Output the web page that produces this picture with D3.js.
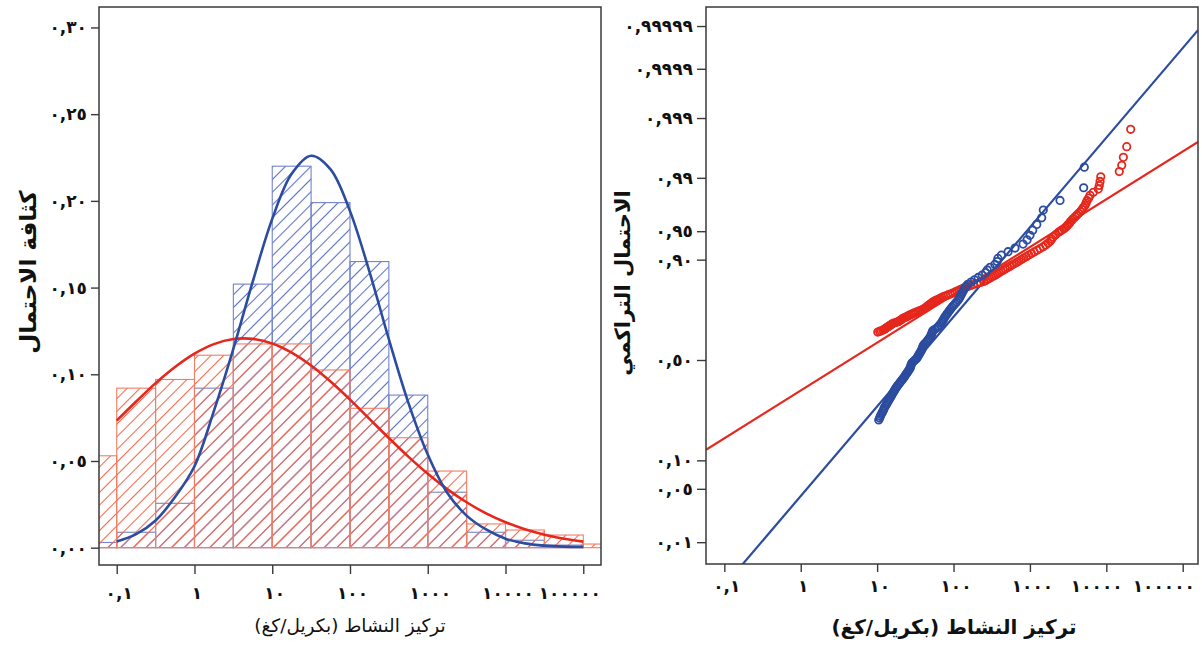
<!DOCTYPE html>
<html><head><meta charset="utf-8">
<script src="https://cdn.jsdelivr.net/npm/d3@7"></script>
<style>
body{margin:0;background:#fff}
svg{display:block}
text{font-family:"DejaVu Sans",sans-serif;fill:#111}
</style>
</head><body><svg id="c" width="1202" height="650"></svg>
<script>
// ---------------- DATA ----------------
// Histogram bins (concentration, Bq/kg), half-decade wide
const binEdges = [0.0316,0.1,0.316,1,3.16,10,31.6,100,316,1000,3162,10000,31623,100000,316228];
const blueDensity = [0.003,0.0089,0.0256,0.092,0.152,0.220,0.199,0.165,0.088,0.032,0.0089,0.0043,0.0015,0];
const redDensity  = [0.053,0.092,0.097,0.111,0.1175,0.1175,0.1025,0.0804,0.0634,0.0442,0.0137,0.0102,0.0073,0.0021];

// Fitted density curves
const curveConc = [0.1,0.1778,0.3162,0.5623,1,1.778,3.162,5.623,10,17.78,31.62,56.23,100,177.8,316.2,562.3,1000,1778,3162,5623,10000,17783,31623,56234,100000];
const blueCurve = [0.0036,0.0078,0.0157,0.0292,0.047,0.0789,0.1147,0.1536,0.1896,0.2156,0.2260,0.2182,0.1941,0.1592,0.1202,0.0837,0.0537,0.0317,0.0185,0.0105,0.0052,0.0025,0.0012,0.0006,0.0004];
const redCurve  = [0.0733,0.0843,0.0949,0.1042,0.1119,0.1174,0.1203,0.1204,0.1178,0.1125,0.1051,0.0958,0.0854,0.0743,0.0632,0.0525,0.0426,0.0338,0.0262,0.0198,0.0147,0.0106,0.0075,0.0052,0.0035];

// Probability plot: sorted concentrations and cumulative probabilities
const blueConc = [10.5,10.8,11.0,11.3,11.6,11.9,12.2,12.4,12.8,13.2,13.5,13.9,14.3,14.7,15.1,15.5,15.9,16.3,16.8,17.2,17.7,18.2,18.8,19.5,20.1,20.8,21.5,22.2,22.9,23.5,24.2,24.9,25.6,26.3,27.0,27.4,27.7,28.1,28.7,30.1,31.3,32.7,33.7,34.4,35.3,36.1,37.1,37.9,38.7,39.3,39.8,40.6,42.2,44.0,45.5,47.0,48.5,50.1,50.9,51.8,52.6,53.5,57.0,61.1,63.7,66.4,69.0,71.0,72.8,74.8,76.9,79.6,82.4,85.3,88.5,91.8,95.5,99.8,104.7,109.6,115.3,119.1,122.7,126.5,130.6,134.9,140.0,145.2,153.8,169.8,188.4,210.4,237.1,262.4,276.1,301.3,347.5,372.4,381.1,422.7,517.6,638.3,812.8,918.3,1002,1089,1230,1426,1496,2477,5050,5150];
const blueProb = [.2222,.2292,.2361,.2431,.2500,.2569,.2639,.2708,.2778,.2847,.2917,.2986,.3056,.3125,.3194,.3264,.3333,.3403,.3472,.3542,.3611,.3681,.3750,.3819,.3889,.3958,.4028,.4097,.4167,.4236,.4306,.4375,.4444,.4514,.4583,.4653,.4722,.4792,.4861,.4931,.5000,.5069,.5139,.5208,.5278,.5347,.5417,.5486,.5556,.5625,.5694,.5764,.5833,.5903,.5972,.6042,.6111,.6181,.6250,.6319,.6389,.6458,.6528,.6597,.6667,.6736,.6806,.6875,.6944,.7014,.7083,.7153,.7222,.7292,.7361,.7431,.7500,.7569,.7639,.7708,.7778,.7847,.7917,.7986,.8056,.8125,.8194,.8264,.8333,.8403,.8472,.8542,.8611,.8681,.8750,.8819,.8889,.8958,.9028,.9097,.9167,.9236,.9306,.9375,.9444,.9514,.9583,.9653,.9722,.9792,.9861,.9931];
const redConc = [10.2,10.8,11.3,11.9,12.4,12.8,13.1,13.5,14.0,14.4,14.9,15.3,15.8,16.5,17.7,18.9,19.5,20.1,20.8,21.4,22.2,23.2,24.4,25.4,26.5,27.9,29.2,30.7,32.5,34.4,36.5,38.6,40.8,42.2,43.4,44.8,46.1,47.6,49.2,50.7,52.5,54.1,56.9,59.8,63.1,66.5,70.0,74.0,79.1,84.5,91.0,97.5,104.5,110.4,117.2,124.5,133.0,143.2,154.9,168.3,182.8,203.2,225.9,248.9,264.2,279.3,296.5,314.8,334.2,354.8,375.8,397.2,420.7,446.7,475.3,507,544.5,580.8,622.3,669.9,719.5,772.7,829.8,895.4,968.3,1047,1135,1242,1355,1489,1607,1734,1854,1932,2014,2173,2366,2477,2630,2793,2924,3062,3155,3296,3396,3556,3698,3890,4102,4325,4592,4808,5012,5260,5433,5598,5888,6124,6761,7852,8091,8279,8453,14790,15920,16710,18490,20840];
const redProb = [.6393,.6425,.6457,.6490,.6522,.6554,.6586,.6618,.6651,.6683,.6715,.6747,.6779,.6812,.6844,.6876,.6908,.6940,.6973,.7005,.7037,.7069,.7101,.7134,.7166,.7198,.7230,.7262,.7295,.7327,.7359,.7391,.7424,.7456,.7488,.7520,.7552,.7585,.7617,.7649,.7681,.7713,.7746,.7778,.7810,.7842,.7874,.7907,.7939,.7971,.8003,.8035,.8068,.8100,.8132,.8164,.8196,.8229,.8261,.8293,.8325,.8357,.8390,.8422,.8454,.8486,.8519,.8551,.8583,.8615,.8647,.8680,.8712,.8744,.8776,.8808,.8841,.8873,.8905,.8937,.8969,.9002,.9034,.9066,.9098,.9130,.9163,.9195,.9227,.9259,.9291,.9324,.9356,.9388,.9420,.9452,.9485,.9501,.9517,.9533,.9549,.9565,.9581,.9597,.9614,.9630,.9646,.9662,.9678,.9694,.9710,.9726,.9742,.9758,.9775,.9791,.9807,.9823,.9839,.9855,.9871,.9887,.99034,.99195,.99356,.99517,.99678,.99839];

// Lognormal fits (median Bq/kg, sigma in log10 units)
const blueFitMedian = 33.0, blueFitSigma = 0.874;
const redFitMedian = 4.34, redFitSigma = 1.638;

// Ticks and labels
const xTicks = [0.1,1,10,100,1000,10000,100000];
const xLabels = ["٠,١","١","١٠","١٠٠","١٠٠٠","١٠٠٠٠","١٠٠٠٠٠"];
const densTicks = [0,0.05,0.10,0.15,0.20,0.25,0.30];
const densLabels = ["٠,٠٠","٠,٠٥","٠,١٠","٠,١٥","٠,٢٠","٠,٢٥","٠,٣٠"];
const probTicks = [0.01,0.05,0.10,0.50,0.90,0.95,0.99,0.999,0.9999,0.99999];
const probLabels = ["٠,٠١","٠,٠٥","٠,١٠","٠,٥٠","٠,٩٠","٠,٩٥","٠,٩٩","٠,٩٩٩","٠,٩٩٩٩","٠,٩٩٩٩٩"];
const xTitle = "تركيز النشاط (بكريل/كغ)";
const yTitleLeft = "كثافة الاحتمال";
const yTitleRight = "الاحتمال التراكمي";

// ---------------- STYLE ----------------
const BLUE = "#2b4c9f", RED = "#e5271c";
const BLUE_H = "#5d72c2", RED_H = "#f26b52";
const FRAME = "#3a3a3a";
const TICK_FS = 17, TICK_LS = 4;

// inverse standard normal CDF (Acklam)
function normInv(p){
  const a=[-3.969683028665376e+01,2.209460984245205e+02,-2.759285104469687e+02,1.383577518672690e+02,-3.066479806614716e+01,2.506628277459239e+00];
  const b=[-5.447609879822406e+01,1.615858368580409e+02,-1.556989798598866e+02,6.680131188771972e+01,-1.328068155288572e+01];
  const c=[-7.784894002430293e-03,-3.223964580411365e-01,-2.400758277161838e+00,-2.549732539343734e+00,4.374664141464968e+00,2.938163982698783e+00];
  const d=[7.784695709041462e-03,3.224671290700398e-01,2.445134137142996e+00,3.754408661907416e+00];
  const pl=0.02425, ph=1-pl; let q,r;
  if(p<pl){q=Math.sqrt(-2*Math.log(p));return (((((c[0]*q+c[1])*q+c[2])*q+c[3])*q+c[4])*q+c[5])/((((d[0]*q+d[1])*q+d[2])*q+d[3])*q+1);}
  if(p<=ph){q=p-0.5;r=q*q;return (((((a[0]*r+a[1])*r+a[2])*r+a[3])*r+a[4])*r+a[5])*q/(((((b[0]*r+b[1])*r+b[2])*r+b[3])*r+b[4])*r+1);}
  q=Math.sqrt(-2*Math.log(1-p));return -(((((c[0]*q+c[1])*q+c[2])*q+c[3])*q+c[4])*q+c[5])/((((d[0]*q+d[1])*q+d[2])*q+d[3])*q+1);
}

const svg = d3.select("#c");
const defs = svg.append("defs");
function hatch(id, color){
  const p = defs.append("pattern").attr("id",id).attr("patternUnits","userSpaceOnUse")
    .attr("width",9).attr("height",9).attr("patternTransform","rotate(45)");
  p.append("line").attr("x1",4.5).attr("y1",-1).attr("x2",4.5).attr("y2",10)
    .attr("stroke",color).attr("stroke-width",1.1);
}
hatch("hBlue", BLUE_H);
hatch("hRed", RED_H);

function styleAxis(g){
  g.select(".domain").remove();
  g.selectAll(".tick line").attr("stroke",FRAME).attr("stroke-width",1.4);
  g.selectAll(".tick text").attr("font-family","DejaVu Sans").attr("font-size",TICK_FS)
    .attr("font-weight","bold").attr("letter-spacing",TICK_LS).attr("fill","#111");
}
// x labels: centre them (compensating trailing letter-spacing), keep the last ones inside the frame
function fixXLabels(g, rightEdge, gap){
  const texts = g.selectAll(".tick text").nodes();
  texts.forEach(t=>d3.select(t).attr("dx", TICK_LS/2));
  const ticks = g.selectAll(".tick").nodes();
  const pos = ticks.map(n=>+n.getAttribute("transform").match(/translate\(([-\d.]+)/)[1]);
  let limit = rightEdge;
  for(let i=texts.length-1;i>=0;i--){
    const w = texts[i].getComputedTextLength();
    const end = pos[i] + w/2;
    if(end > limit){
      d3.select(texts[i]).attr("text-anchor","end").attr("x", limit - pos[i]).attr("dx",0);
      limit = limit - w - gap;
    } else break;
  }
}

// ---------------- LEFT PANEL ----------------
const L = {x0:99, x1:601, y0:7, y1:565};
const xL = d3.scaleLog().domain([Math.pow(10,-1.228), Math.pow(10,5.228)]).range([L.x0, L.x1]);
const yL = d3.scaleLinear().domain([-0.00998, 0.3118]).range([L.y1, L.y0]);

defs.append("clipPath").attr("id","clipL").append("rect")
  .attr("x",L.x0).attr("y",L.y0).attr("width",L.x1-L.x0).attr("height",L.y1-L.y0);

const gL = svg.append("g");
const bars = gL.append("g").attr("clip-path","url(#clipL)");
function drawBars(vals, fill, stroke){
  bars.append("g").selectAll("rect").data(vals).join("rect")
    .attr("x",(d,i)=>xL(binEdges[i]))
    .attr("width",(d,i)=>xL(binEdges[i+1])-xL(binEdges[i]))
    .attr("y",d=>yL(d))
    .attr("height",d=>yL(0)-yL(d))
    .attr("fill",`url(#${fill})`)
    .attr("stroke",stroke).attr("stroke-width",1.1)
    .attr("display",d=>d>0?null:"none");
}
drawBars(blueDensity,"hBlue","#7184cb");
drawBars(redDensity,"hRed","#f47d65");

const curveGen = d3.line().x(d=>xL(d[0])).y(d=>yL(d[1])).curve(d3.curveCatmullRom.alpha(0.5));
bars.append("path").attr("d",curveGen(curveConc.map((c,i)=>[c,redCurve[i]])))
  .attr("fill","none").attr("stroke",RED).attr("stroke-width",2.6);
bars.append("path").attr("d",curveGen(curveConc.map((c,i)=>[c,blueCurve[i]])))
  .attr("fill","none").attr("stroke",BLUE).attr("stroke-width",2.6);

gL.append("rect").attr("x",L.x0).attr("y",L.y0).attr("width",L.x1-L.x0).attr("height",L.y1-L.y0)
  .attr("fill","none").attr("stroke",FRAME).attr("stroke-width",1.5);

const axYL = gL.append("g").attr("transform",`translate(${L.x0},0)`)
  .call(d3.axisLeft(yL).tickValues(densTicks).tickSize(8).tickPadding(4).tickFormat((d,i)=>densLabels[i]));
styleAxis(axYL);
const axXL = gL.append("g").attr("transform",`translate(0,${L.y1})`)
  .call(d3.axisBottom(xL).tickValues(xTicks).tickSize(9).tickPadding(13).tickFormat((d,i)=>xLabels[i]));
styleAxis(axXL);
fixXLabels(axXL, L.x1, 6);

gL.append("text").attr("x",350).attr("y",632).attr("text-anchor","middle").attr("direction","rtl")
  .attr("font-size",18.5).text(xTitle);
gL.append("text").attr("transform","translate(36,272) rotate(-90)").attr("text-anchor","middle")
  .attr("direction","rtl").attr("font-size",23).attr("font-weight","bold").text(yTitleLeft);

// ---------------- RIGHT PANEL ----------------
const R = {x0:706, x1:1198, y0:7, y1:564};
const xR = d3.scaleLog().domain([Math.pow(10,-1.24), Math.pow(10,5.2)]).range([R.x0, R.x1]);
const zR = d3.scaleLinear().domain([-2.605, 4.508]).range([R.y1, R.y0]);
const pY = p => zR(normInv(p));

defs.append("clipPath").attr("id","clipR").append("rect")
  .attr("x",R.x0).attr("y",R.y0).attr("width",R.x1-R.x0).attr("height",R.y1-R.y0);
const gR = svg.append("g");
const plotR = gR.append("g").attr("clip-path","url(#clipR)");

function fitLine(median, sigma, color){
  const dom = xR.domain();
  const pts = dom.map(x=>[x,(Math.log10(x)-Math.log10(median))/sigma]);
  plotR.append("line")
    .attr("x1",xR(pts[0][0])).attr("y1",zR(pts[0][1]))
    .attr("x2",xR(pts[1][0])).attr("y2",zR(pts[1][1]))
    .attr("stroke",color).attr("stroke-width",2.2);
}
fitLine(redFitMedian, redFitSigma, RED);
fitLine(blueFitMedian, blueFitSigma, BLUE);

function drawPts(conc, prob, color){
  plotR.append("g").selectAll("circle").data(conc).join("circle")
    .attr("cx",d=>xR(d)).attr("cy",(d,i)=>pY(prob[i])).attr("r",3.7)
    .attr("fill","none").attr("stroke",color).attr("stroke-width",1.8);
}
drawPts(redConc, redProb, RED);
drawPts(blueConc, blueProb, BLUE);

gR.append("rect").attr("x",R.x0).attr("y",R.y0).attr("width",R.x1-R.x0).attr("height",R.y1-R.y0)
  .attr("fill","none").attr("stroke",FRAME).attr("stroke-width",1.5);

const axYR = gR.append("g").attr("transform",`translate(${R.x0},0)`)
  .call(d3.axisLeft(zR).tickValues(probTicks.map(normInv)).tickSize(9).tickPadding(4).tickFormat((d,i)=>probLabels[i]));
styleAxis(axYR);
const axXR = gR.append("g").attr("transform",`translate(0,${R.y1})`)
  .call(d3.axisBottom(xR).tickValues(xTicks).tickSize(8).tickPadding(8).tickFormat((d,i)=>xLabels[i]));
styleAxis(axXR);
fixXLabels(axXR, 1195, 10);

gR.append("text").attr("x",954).attr("y",634).attr("text-anchor","middle").attr("direction","rtl")
  .attr("font-size",20).attr("font-weight","bold").text(xTitle);
gR.append("text").attr("transform","translate(630,283) rotate(-90)").attr("text-anchor","middle")
  .attr("direction","rtl").attr("font-size",21).attr("font-weight","bold").text(yTitleRight);
</script>
</body></html>
